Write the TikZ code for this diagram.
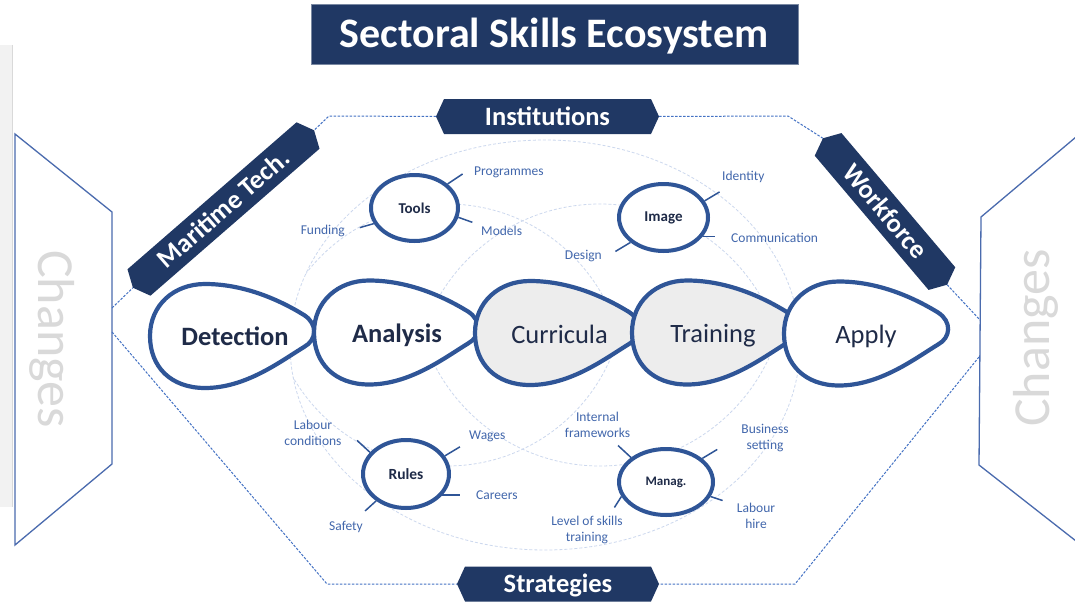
\documentclass[tikz,border=0pt]{standalone}
\usepackage{fontspec}
\setmainfont{Carlito}
\usetikzlibrary{shapes.geometric}
\definecolor{navy}{HTML}{203864}
\definecolor{outl}{HTML}{2F5597}
\definecolor{lbl}{HTML}{4267AC}
\definecolor{faintc}{HTML}{CCD8EE}
\definecolor{dashc}{HTML}{4472C4}
\definecolor{panelc}{HTML}{4A6BAE}
\definecolor{chg}{HTML}{D9D9D9}
\definecolor{darktxt}{HTML}{1F2B48}
\definecolor{tearfill}{HTML}{EDEDED}
\tikzset{
 faint/.style={draw=faintc, line width=0.8pt, dash pattern=on 3pt off 2pt},
 conn/.style={draw=dashc, line width=1pt, dash pattern=on 2.5pt off 1.5pt},
 panel/.style={draw=panelc, line width=1.3pt, line join=miter},
 tearline/.style={draw=outl, line width=4.2pt},
 sat/.style={ellipse, draw=outl, line width=4pt, fill=white, inner sep=0pt, text=darktxt, font=\bfseries\fontsize{15}{17}\selectfont},
 spoke/.style={draw=outl, line width=1.5pt},
 lab/.style={text=lbl, font=\fontsize{13.5}{16}\selectfont, inner sep=0pt, align=center},
 bannertext/.style={text=white, font=\bfseries\fontsize{26.5}{30}\selectfont, inner sep=0pt, text height=17pt, text depth=0pt},
 bigtxt/.style={text=darktxt, font=\fontsize{26.5}{30}\selectfont, inner sep=0pt, anchor=base},
 chtxt/.style={text=chg, font=\fontsize{52}{60}\selectfont, inner sep=0pt, anchor=base},
}
\newcommand\banner[6]{%
 \begin{scope}[shift={(#2,#3)}, rotate=#4]
  \fill[navy] (-#5/2,0) -- (-#5/2+8,-17.5) -- (#5/2-8,-17.5) -- (#5/2,0) -- (#5/2-8,17.5) -- (-#5/2+8,17.5) -- cycle;
  \coordinate (#1-w) at (-#5/2,0);
  \coordinate (#1-e) at (#5/2,0);
 \end{scope}
 \node[bannertext, rotate=#4] (#1) at (#2,#3) {#6};}
\newcommand\tear[3]{%
 \begin{scope}[shift={(#1,#2)}]
  \filldraw[tearline, fill=#3] (2,0) .. controls (2,-31) and (26,-52) .. (57,-52)
   .. controls (95,-52) and (130,-37) .. (156,-21)
   .. controls (170,-12) and (169,4) .. (156,11)
   .. controls (133,25) and (98,52) .. (57,52)
   .. controls (23,52) and (2,31) .. (2,0) -- cycle;
 \end{scope}}
\begin{document}
\begin{tikzpicture}[x=1pt,y=-1pt]
\useasboundingbox (0,0) rectangle (1075,602);
\fill[white] (0,0) rectangle (1075,602);
% left gray strip
\fill[gray!10] (0,45) rectangle (13,507);
\draw[gray!30, line width=1.5pt] (12.5,45) -- (12.5,507);
% background faint circles
\begin{scope}
 \clip (545,345) ellipse [x radius=255, y radius=205];
 \begin{scope}
  \clip (0,0) rectangle (1075,335);
  \draw[faint] (447,382) circle [radius=178];
  \draw[faint] (600,390) circle [radius=186];
 \end{scope}
 \begin{scope}
  \clip (0,335) rectangle (1075,602);
  \draw[faint] (447,288) circle [radius=178];
  \draw[faint] (600,280) circle [radius=186];
 \end{scope}
\end{scope}
\draw[faint] (545,345) ellipse [x radius=255, y radius=205];
% side panels
\fill[white] (15,134) -- (112,212) -- (112,464) -- (15,545) -- cycle;
\draw[panel] (15,134) -- (112,212) -- (112,464) -- (15,545) -- cycle;
\fill[white] (1076,137) -- (981,217) -- (979,465) -- (1076,541) -- cycle;
\draw[panel] (1076,137) -- (981,217) -- (979,465) -- (1076,541);
\node[chtxt, rotate=-90] (chl) at (38,339) {Changes};
\node[chtxt, rotate=90] (chr) at (1049,338) {Changes};
\coordinate (lp1) at (112,308);
\coordinate (lp2) at (112,332);
\coordinate (rp1) at (980,320);
\coordinate (rp2) at (979,357);
\coordinate (b1) at (329,116);
\coordinate (b2) at (788,116);
\coordinate (b3) at (327,584);
\coordinate (b4) at (795,584);
% title
\node[fill=navy, draw=navy!60!white, line width=0.8pt, minimum width=487pt, minimum height=60pt, inner sep=0pt] (titlebox) at (554.5,34) {};
\node[text=white, font=\bfseries\fontsize{42}{48}\selectfont, anchor=base, inner sep=0pt] (title) at (554,48) {Sectoral Skills Ecosystem};
% banners
\banner{inst}{547.5}{116.5}{0}{223}{Institutions}
\banner{str}{558}{584}{0}{202}{Strategies}
\banner{mar}{223.5}{209}{41}{240}{Maritime Tech.}
\banner{wf}{885}{211.5}{-49.7}{192}{Workforce}
% dashed connectors
\draw[conn] (inst-w) -- (b1) -- (mar-e);
\draw[conn] (inst-e) -- (b2) -- (wf-w);
\draw[conn] (lp1) -- (mar-w);
\draw[conn] (lp2) -- (b3) -- (str-w);
\draw[conn] (wf-e) -- (rp1);
\draw[conn] (rp2) -- (b4) -- (str-e);
% teardrops
\tear{148}{336}{white}
\tear{312}{332.5}{white}
\tear{473}{333}{tearfill}
\tear{630}{332.5}{tearfill}
\tear{782}{333.5}{white}
\node[bigtxt, font=\bfseries\fontsize{26.5}{30}\selectfont] (det) at (235,345.5) {Detection};
\node[bigtxt, font=\bfseries\fontsize{26.5}{30}\selectfont] (ana) at (397,342.5) {Analysis};
\node[bigtxt] (cur) at (559.5,343) {Curricula};
\node[bigtxt] (tra) at (713,342.5) {Training};
\node[bigtxt] (app) at (866,343) {Apply};
% satellites
\node[sat, minimum width=87pt, minimum height=66pt] (tools) at (414.5,208) {Tools};
\node[sat, minimum width=89pt, minimum height=67pt] (image) at (663.5,217.5) {Image};
\node[sat, minimum width=86pt, minimum height=68pt, font=\bfseries\fontsize{15.5}{17}\selectfont] (rules) at (406,474) {Rules};
\node[sat, minimum width=94pt, minimum height=66pt, font=\bfseries\fontsize{13}{15}\selectfont] (manag) at (666,482) {Manag.};
% spokes
\draw[spoke] (tools.36) -- ++(15,-10);
\draw[spoke] (tools.-12) -- ++(14,5);
\draw[spoke] (tools.201) -- ++(-14,4);
\draw[spoke] (image.22) -- ++(15,-9);
\draw[spoke] (image.-26) -- ++(12,0);
\draw[spoke] (image.217) -- ++(-15,9);
\draw[spoke] (rules.149) -- ++(-13,-12);
\draw[spoke] (rules.25) -- ++(15,-9);
\draw[spoke] (rules.-30) -- ++(18,0);
\draw[spoke] (rules.222) -- ++(-11,10);
\draw[spoke] (manag.145) -- ++(-13,-12);
\draw[spoke] (manag.33) -- ++(15,-9);
\draw[spoke] (manag.-18) -- ++(12,4);
\draw[spoke] (manag.198) -- ++(-7,11);
% labels
\node[lab, anchor=west] (l1) at (474,172) {Programmes};
\node[lab, anchor=west] (l2) at (481,231) {Models};
\node[lab, anchor=east] (l3) at (345,231) {Funding};
\node[lab, anchor=west] (l4) at (722,177) {Identity};
\node[lab, anchor=west] (l5) at (731,238) {Communication};
\node[lab, anchor=east] (l6) at (602,256) {Design};
\node[lab] (l7) at (313,433) {Labour\\conditions};
\node[lab, anchor=west] (l8) at (469,436) {Wages};
\node[lab, anchor=west] (l9) at (476,495) {Careers};
\node[lab] (l10) at (346,527) {Safety};
\node[lab] (l11) at (597.5,425) {Internal\\frameworks};
\node[lab] (l12) at (765,438) {Business\\setting};
\node[lab] (l13) at (756,516) {Labour\\hire};
\node[lab] (l14) at (587,530) {Level of skills\\training};
\end{tikzpicture}
\end{document}
